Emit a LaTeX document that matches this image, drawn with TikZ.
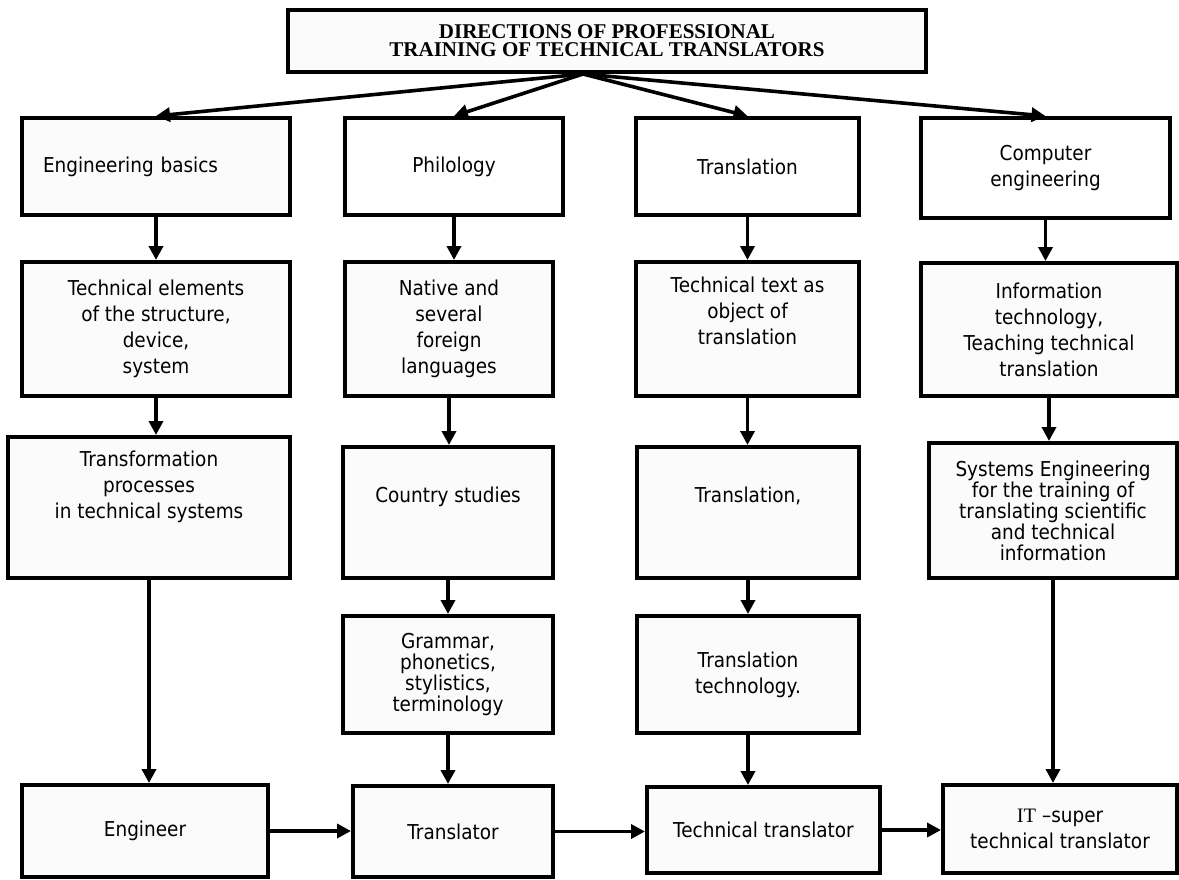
\documentclass[tikz,border=0pt]{standalone}
\usepackage{fontspec}
\setmainfont{Liberation Serif}
\newfontfamily\boxfont{DejaVu Sans}[FakeStretch=0.9]
\usetikzlibrary{arrows.meta}
\tikzset{
  box/.style={draw, line width=4pt, fill=gray!3, align=center, inner sep=2pt,
    font=\boxfont\fontsize{20.5}{26}\selectfont},
  plain/.style={box, fill=white},
  tight/.style={font=\boxfont\fontsize{20.5}{21}\selectfont},
  arr/.style={-{Triangle[length=14pt,width=14pt]}, line width=3.6pt}
}

\begin{document}
\begin{tikzpicture}[x=1pt,y=-1pt]
\useasboundingbox (0,0) rectangle (1179,879);
% title
\node[box, minimum width=638pt, minimum height=62pt,
  font=\bfseries\fontsize{21}{18}\selectfont] (title) at (607,41)
  {DIRECTIONS OF PROFESSIONAL\\TRAINING OF TECHNICAL TRANSLATORS};
\coordinate (apex) at ([xshift=-24pt]title.south);

% first row
\node[box, minimum width=268pt, minimum height=97pt, text width=226pt,
  inner xsep=21pt, align=left] (basics) at (156,166.5) {Engineering basics};
\node[plain, minimum width=218pt, minimum height=97pt] (philology) at (454,166.5) {Philology};
\node[plain, minimum width=223pt, minimum height=97pt] (translation) at (747.5,166.5) {Translation};
\node[plain, minimum width=249pt, minimum height=100pt] (computer) at (1045.5,168) {Computer\\engineering};

% second row
\node[box, minimum width=268pt, minimum height=134pt] (elements) at (156,329)
  {Technical elements\\of the structure,\\device,\\system};
\node[box, minimum width=208pt, minimum height=134pt] (languages) at (449,329)
  {Native and\\several\\foreign\\languages};
\node[box, minimum width=223pt, minimum height=134pt, text depth=36pt] (textobj) at (747.5,329)
  {Technical text as\\object of\\translation};
\node[box, minimum width=256pt, minimum height=133pt] (infotech) at (1049,329.5)
  {Information\\technology,\\Teaching technical\\translation};

% third row
\node[box, minimum width=282pt, minimum height=141pt, text depth=45pt] (transform) at (149,507.5)
  {Transformation\\processes\\in technical systems};
\node[box, minimum width=210pt, minimum height=131pt, text depth=35pt] (country) at (448,512.5)
  {Country studies};
\node[box, minimum width=222pt, minimum height=131pt, text depth=35pt] (transl2) at (748,512.5)
  {Translation,};
\node[box, tight, minimum width=248pt, minimum height=135pt] (syseng) at (1053,510.5)
  {Systems Engineering\\for the training of\\translating scientific\\and technical\\information};

% fourth row
\node[box, tight, minimum width=210pt, minimum height=117pt] (grammar) at (448,674.5)
  {Grammar,\\phonetics,\\stylistics,\\terminology};
\node[box, minimum width=222pt, minimum height=117pt] (technology) at (748,674.5)
  {Translation\\technology.};

% results
\node[box, minimum width=246pt, minimum height=92pt] (engineer) at (145,831) {Engineer};
\node[box, minimum width=200pt, minimum height=91pt] (translator) at (453,831.5) {Translator};
\node[box, minimum width=233pt, minimum height=86pt] (techtr) at (763.5,830) {Technical translator};
\node[box, minimum width=234pt, minimum height=88pt] (itsuper) at (1060,829)
  {{\rmfamily IT} –super\\technical translator};

% connectors
\foreach \n in {basics,philology,translation,computer}
  \draw[arr] (apex) -- (\n.north);
\foreach \a/\b in {basics/elements, elements/transform, transform/engineer,
                   philology/languages, languages/country, country/grammar, grammar/translator,
                   translation/textobj, textobj/transl2, transl2/technology, technology/techtr,
                   computer/infotech, infotech/syseng, syseng/itsuper}
  \draw[arr] (\a.south) -- (\a.south |- \b.north);
\foreach \a/\b in {engineer/translator, translator/techtr, techtr/itsuper}
  \draw[arr] (\a.east) -- (\a.east -| \b.west);
\end{tikzpicture}
\end{document}
